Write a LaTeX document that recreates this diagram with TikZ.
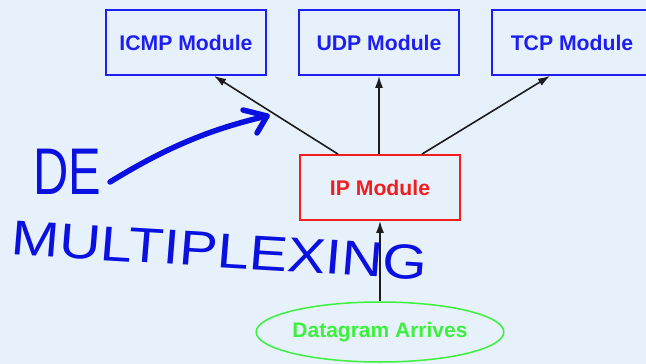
\documentclass[tikz,border=0pt]{standalone}
\usepackage{fontspec}
\setmainfont{Liberation Sans}
\usetikzlibrary{arrows.meta,shapes.geometric}
\definecolor{bgpale}{HTML}{E7F1FC}
\definecolor{boxblue}{HTML}{1E1EF0}
\definecolor{boxred}{HTML}{F01E1E}
\definecolor{boxgreen}{HTML}{3CF03C}
\definecolor{ink}{HTML}{0A10E0}
\definecolor{wire}{HTML}{1C1C1C}
\tikzset{
  module/.style={draw, line width=1.8pt, minimum width=160pt, minimum height=65pt,
    inner sep=0pt, font=\fontsize{21.2}{24}\selectfont\bfseries},
  bluemod/.style={module, draw=boxblue, text=boxblue},
  redmod/.style={module, draw=boxred, text=boxred},
  source/.style={ellipse, draw=boxgreen, text=boxgreen, line width=1.5pt,
    minimum width=244pt, minimum height=60pt, inner sep=0pt,
    font=\fontsize{21}{24}\selectfont\bfseries},
  wirearrow/.style={draw=wire, line width=1.6pt, -{Latex[length=12pt,width=8pt]}},
  pen/.style={draw=ink, line width=5.5pt, line cap=round, line join=round},
  scrawl/.style={text=ink, inner sep=0pt}
}
\begin{document}
\begin{tikzpicture}[x=1pt,y=-1pt]
  \useasboundingbox (0,0) rectangle (646,364);
  \clip (0,0) rectangle (646,364);
  \fill[bgpale] (0,0) rectangle (646,364);

  % protocol modules
  \node[bluemod] (icmp) at (186,42.5) {ICMP Module};
  \node[bluemod] (udp)  at (379,42.5) {UDP Module};
  \node[bluemod] (tcp)  at (572,42.5) {TCP Module};
  \node[redmod]  (ip)   at (380,187.5) {IP Module};
  \node[source]  (dgram) at (380,332) {Datagram Arrives};

  % arrows from the IP module up to the protocols
  \draw[wirearrow] ([xshift=-42pt]ip.north) -- ([xshift=28pt]icmp.south);
  \draw[wirearrow] (ip.north -| udp.south) -- (udp.south);
  \draw[wirearrow] ([xshift=42pt]ip.north) -- ([xshift=-22pt]tcp.south);
  \draw[wirearrow] (dgram.north) -- (ip.south);

  % handwritten note
  \coordinate (penstart) at (110,182);
  \coordinate (pentip) at (267,116);
  \draw[pen] (penstart) .. controls (170,145) and (215,128) .. (pentip);
  \draw[pen] (243,110) -- (pentip) -- (257,133);
  \node[scrawl, font=\fontsize{66}{66}\selectfont, xscale=0.74, anchor=west] (de) at (33,172) {DE};
  \node[scrawl, font=\fontsize{49}{49}\selectfont, xscale=1.17, rotate=-4, anchor=west] (mux) at (12,238) {MULTIPLEXING};
\end{tikzpicture}
\end{document}
